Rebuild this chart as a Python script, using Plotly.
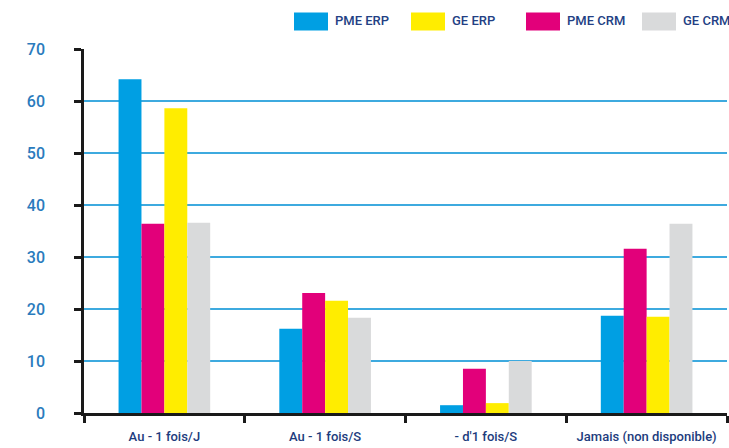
import plotly.graph_objects as go

# Fréquence d'utilisation, en %
categories = ["Au - 1 fois/J", "Au - 1 fois/S", "- d'1 fois/S", "Jamais (non disponible)"]

pme_erp = [64.2, 16.2, 1.5, 18.7]
pme_crm = [36.4, 23.1, 8.5, 31.6]
ge_erp = [58.6, 21.6, 1.9, 18.5]
ge_crm = [36.6, 18.3, 10.0, 36.4]

y_ticks = [0, 10, 20, 30, 40, 50, 60, 70]

# bar order within each group
series = [
    ("PME ERP", pme_erp, "#009fe3"),
    ("PME CRM", pme_crm, "#e2007a"),
    ("GE ERP", ge_erp, "#ffed00"),
    ("GE CRM", ge_crm, "#d9dadb"),
]
# order of the key at the top
legend_order = ["PME ERP", "GE ERP", "PME CRM", "GE CRM"]
colors = {name: c for name, _, c in series}

fig = go.Figure()
for name, vals, col in series:
    fig.add_trace(go.Bar(x=categories, y=vals, name=name, marker_color=col,
                         marker_line_width=0, showlegend=False))

family = "Roboto, sans-serif"

# plot area in pixels (for placing the key)
L, R = 84, 727
plot_top, plot_bot = 49.5, 413.0
pw, ph = R - L, plot_bot - plot_top

# custom key: wide colour swatches with labels
key_x = [294, 411, 526, 642]
shapes = []
annotations = []
for name, x0 in zip(legend_order, key_x):
    shapes.append(dict(type="rect", xref="paper", yref="paper",
                       x0=(x0 - L) / pw, x1=(x0 + 34 - L) / pw,
                       y0=(plot_bot - 31) / ph, y1=(plot_bot - 13) / ph,
                       line_width=0, fillcolor=colors[name]))
    annotations.append(dict(xref="paper", yref="paper",
                            x=(x0 + 39 - L) / pw, y=(plot_bot - 21) / ph,
                            xanchor="left", yanchor="middle", showarrow=False,
                            text=name,
                            font=dict(family=family, size=13, weight=500, color="#233f84")))

fig.update_layout(
    width=729, height=448,
    margin=dict(l=L, r=729 - R, t=49, b=35, autoexpand=False),
    paper_bgcolor="white", plot_bgcolor="white",
    barmode="group", bargap=0.43, bargroupgap=0,
    shapes=shapes, annotations=annotations,
    xaxis=dict(
        showline=True, linecolor="#1a1a1a", linewidth=2.5,
        ticks="outside", tickson="boundaries", ticklen=7, tickwidth=2.5, tickcolor="#1a1a1a",
        showgrid=False, tickangle=0, automargin=False,
        tickfont=dict(family=family, size=13, weight=500, color="#1d3c7d"),
        ticklabelstandoff=10,
    ),
    yaxis=dict(
        range=[0, 70], tickvals=y_ticks, automargin=False,
        showline=True, linecolor="#1a1a1a", linewidth=2.5,
        ticks="outside", ticklen=7, tickwidth=2.5, tickcolor="#1a1a1a",
        showgrid=True, gridcolor="#3eaadf", gridwidth=1.5,
        zeroline=False,
        tickfont=dict(family=family, size=16, weight=500, color="#2a7bbd"),
        ticklabelstandoff=26,
    ),
)

fig.write_html("out.html")
